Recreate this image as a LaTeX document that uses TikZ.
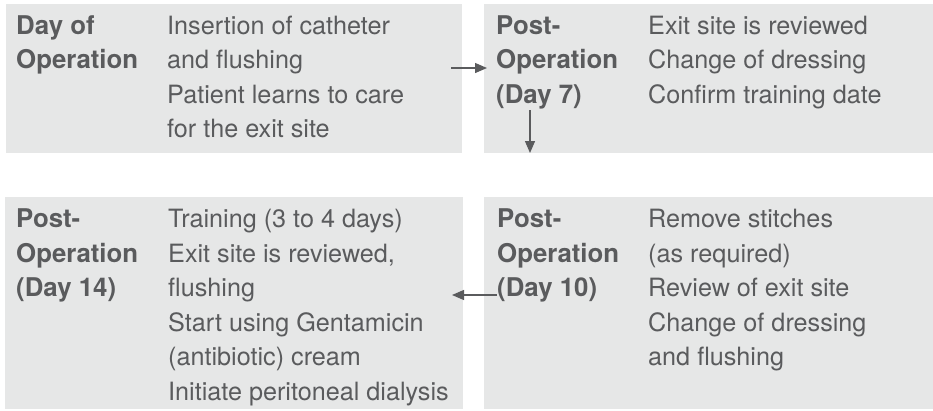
\documentclass[tikz,border=0pt]{standalone}
\usepackage{fontspec}
\setmainfont{TeX Gyre Heros}
\usetikzlibrary{arrows.meta}
\definecolor{boxgrey}{HTML}{E6E7E7}
\definecolor{txtgrey}{HTML}{5A5B5D}
\tikzset{
  panel/.style={fill=boxgrey, draw=none},
  lbl/.style={anchor=base west, inner sep=0pt, text=txtgrey, font=\fontsize{25.8}{30}\selectfont\bfseries},
  desc/.style={anchor=base west, inner sep=0pt, text=txtgrey, font=\fontsize{25.2}{30}\selectfont},
  flow/.style={draw=txtgrey, line width=1.3pt, -{Triangle[length=12pt,width=10pt]}}
}
\begin{document}
\begin{tikzpicture}[x=1pt,y=-1pt]
\useasboundingbox (0,0) rectangle (933,410);
% boxes
\path[panel] (6,4) rectangle (462,153);
\path[panel] (484,4) rectangle (933,153);
\path[panel] (5,197) rectangle (463,409);
\path[panel] (484,197) rectangle (933,409);
% box 1
\node[lbl] (l1a) at (16,34) {Day of};
\node[lbl] (l1b) at (16,68.5) {Operation};
\node[desc] (d1a) at (167,34) {Insertion of catheter};
\node[desc] (d1b) at (167,68.5) {and flushing};
\node[desc] (d1c) at (167,103) {Patient learns to care};
\node[desc] (d1d) at (167,137) {for the exit site};
% box 2
\node[lbl] (l2a) at (496,34) {Post-};
\node[lbl] (l2b) at (496,68.5) {Operation};
\node[lbl] (l2c) at (496,103) {(Day 7)};
\node[desc] (d2a) at (648,34) {Exit site is reviewed};
\node[desc] (d2b) at (648,68.5) {Change of dressing};
\node[desc] (d2c) at (648,103) {Confirm training date};
% box 3
\node[lbl] (l3a) at (16,227) {Post-};
\node[lbl] (l3b) at (16,262) {Operation};
\node[lbl] (l3c) at (16,296) {(Day 14)};
\node[desc] (d3a) at (168,227) {Training (3 to 4 days)};
\node[desc] (d3b) at (168,262) {Exit site is reviewed,};
\node[desc] (d3c) at (168,296) {flushing};
\node[desc] (d3d) at (168,331) {Start using Gentamicin};
\node[desc] (d3e) at (168,365) {(antibiotic) cream};
\node[desc] (d3f) at (168,400) {Initiate peritoneal dialysis};
% box 4
\node[lbl] (l4a) at (497,227) {Post-};
\node[lbl] (l4b) at (497,262) {Operation};
\node[lbl] (l4c) at (497,296) {(Day 10)};
\node[desc] (d4a) at (648,227) {Remove stitches};
\node[desc] (d4b) at (648,262) {(as required)};
\node[desc] (d4c) at (648,296) {Review of exit site};
\node[desc] (d4d) at (648,331) {Change of dressing};
\node[desc] (d4e) at (648,365) {and flushing};
% arrows
\coordinate (a1s) at (451,68);
\coordinate (a1e) at (487,68);
\coordinate (a2s) at (530,110);
\coordinate (a2e) at (530,153);
\coordinate (a3s) at (497,295);
\coordinate (a3e) at (452,295);
\draw[flow] (a1s) -- (a1e);
\draw[flow] (a2s) -- (a2e);
\draw[flow] (a3s) -- (a3e);
\end{tikzpicture}
\end{document}
